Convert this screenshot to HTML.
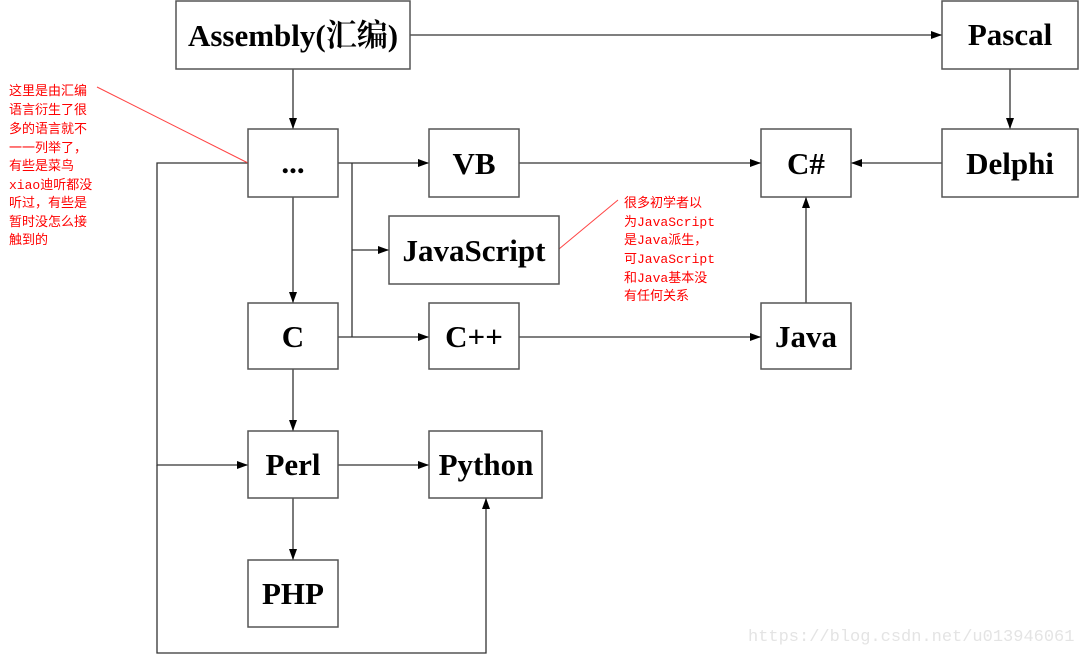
<!DOCTYPE html>
<html><head><meta charset="utf-8"><style>
html,body{margin:0;padding:0;background:#fff;}
svg{display:block;}
.b{fill:#fff;stroke:#555;stroke-width:1.5;}
.t{font-family:"Liberation Serif","Noto Serif CJK SC",serif;font-weight:bold;font-size:31px;fill:#000;text-anchor:middle;}
.l{stroke:#333;stroke-width:1.3;fill:none;}
.r{font-family:"Liberation Mono","WenQuanYi Zen Hei","Noto Sans CJK SC",monospace;font-size:13px;fill:#f00;}
</style></head><body>
<svg width="1079" height="655" viewBox="0 0 1079 655">
<defs><marker id="a" markerWidth="12" markerHeight="10" refX="11" refY="5" orient="auto" markerUnits="userSpaceOnUse"><path d="M0,1 L11,5 L0,9 z" fill="#000"/></marker></defs>
<g class="l" marker-end="url(#a)">
<line x1="410" y1="35" x2="942" y2="35"/>
<line x1="293" y1="69" x2="293" y2="129"/>
<line x1="1010" y1="69" x2="1010" y2="129"/>
<line x1="942" y1="163" x2="851" y2="163"/>
<line x1="338" y1="163" x2="429" y2="163"/>
<line x1="519" y1="163" x2="761" y2="163"/>
<line x1="352" y1="250" x2="389" y2="250"/>
<line x1="338" y1="337" x2="429" y2="337"/>
<line x1="519" y1="337" x2="761" y2="337"/>
<line x1="806" y1="303" x2="806" y2="197"/>
<line x1="293" y1="197" x2="293" y2="303"/>
<line x1="293" y1="369" x2="293" y2="431"/>
<line x1="338" y1="465" x2="429" y2="465"/>
<line x1="293" y1="498" x2="293" y2="560"/>
<polyline points="248,163 157,163 157,465 248,465"/>
<polyline points="157,465 157,653 486,653 486,498"/>
</g>
<line class="l" x1="352" y1="163" x2="352" y2="337"/>
<line x1="97" y1="87" x2="248" y2="163" stroke="#f44" stroke-width="1"/>
<line x1="559" y1="249" x2="618" y2="200" stroke="#f44" stroke-width="1"/>
<rect class="b" x="176" y="1" width="234" height="68"/><text class="t" x="293" y="46">Assembly(汇编)</text>
<rect class="b" x="942" y="1" width="136" height="68"/><text class="t" x="1010" y="45">Pascal</text>
<rect class="b" x="248" y="129" width="90" height="68"/><text class="t" x="293" y="173">...</text>
<rect class="b" x="429" y="129" width="90" height="68"/><text class="t" x="474" y="174">VB</text>
<rect class="b" x="761" y="129" width="90" height="68"/><text class="t" x="806" y="174">C#</text>
<rect class="b" x="942" y="129" width="136" height="68"/><text class="t" x="1010" y="174">Delphi</text>
<rect class="b" x="389" y="216" width="170" height="68"/><text class="t" x="474" y="261">JavaScript</text>
<rect class="b" x="248" y="303" width="90" height="66"/><text class="t" x="293" y="347">C</text>
<rect class="b" x="429" y="303" width="90" height="66"/><text class="t" x="474" y="347">C++</text>
<rect class="b" x="761" y="303" width="90" height="66"/><text class="t" x="806" y="347">Java</text>
<rect class="b" x="248" y="431" width="90" height="67"/><text class="t" x="293" y="475">Perl</text>
<rect class="b" x="429" y="431" width="113" height="67"/><text class="t" x="486" y="475">Python</text>
<rect class="b" x="248" y="560" width="90" height="67"/><text class="t" x="293" y="604">PHP</text>
<g class="r">
<text x="9" y="95">这里是由汇编</text>
<text x="9" y="114">语言衍生了很</text>
<text x="9" y="133">多的语言就不</text>
<text x="9" y="152">一一列举了，</text>
<text x="9" y="170">有些是菜鸟</text>
<text x="9" y="189">xiao迪听都没</text>
<text x="9" y="207">听过，有些是</text>
<text x="9" y="226">暂时没怎么接</text>
<text x="9" y="244">触到的</text>
<text x="624" y="207">很多初学者以</text>
<text x="624" y="226">为JavaScript</text>
<text x="624" y="244">是Java派生，</text>
<text x="624" y="263">可JavaScript</text>
<text x="624" y="282">和Java基本没</text>
<text x="624" y="300">有任何关系</text>
</g>
<text x="748" y="641" style="font-family:'Liberation Mono',monospace;font-size:17px;fill:#e4e4e4;">https://blog.csdn.net/u013946061</text>
</svg>
</body></html>
